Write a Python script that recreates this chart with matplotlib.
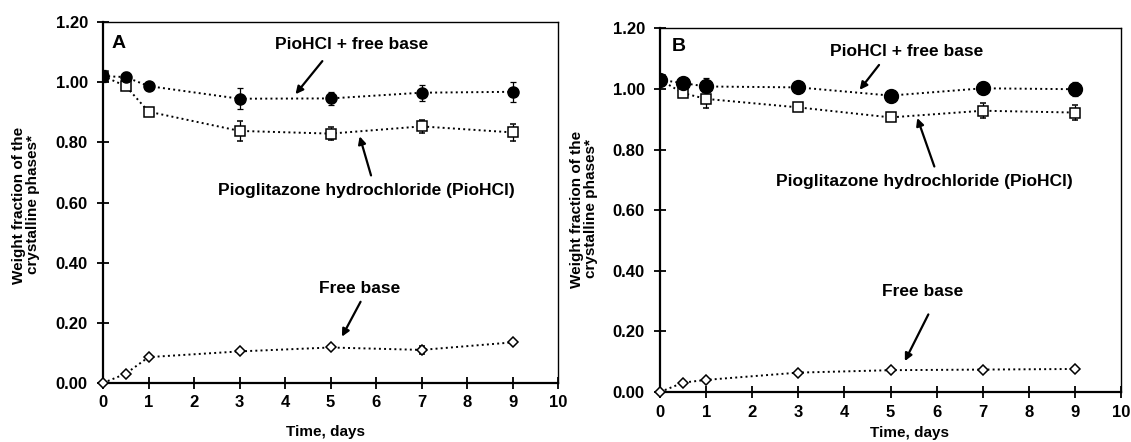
import matplotlib
matplotlib.use("Agg")
import matplotlib.pyplot as plt

plt.rcParams['font.family'] = ['Liberation Sans', 'DejaVu Sans']
plt.rcParams['font.weight'] = 'bold'

days = [0, 0.5, 1, 3, 5, 7, 9]

# panel A
a_total = [1.02, 1.017, 0.987, 0.945, 0.946, 0.965, 0.968]
a_total_err = [0.02, 0.017, 0.006, 0.034, 0.023, 0.027, 0.033]
a_hcl = [1.02, 0.987, 0.902, 0.838, 0.829, 0.853, 0.833]
a_hcl_err = [0.008, 0.014, 0.008, 0.032, 0.021, 0.021, 0.028]
a_base = [0.0, 0.031, 0.086, 0.105, 0.118, 0.110, 0.135]
a_base_err = [0.003, 0.005, 0.005, 0.005, 0.005, 0.012, 0.005]

# panel B
b_total = [1.030, 1.019, 1.008, 1.005, 0.978, 1.002, 0.999]
b_total_err = [0.01, 0.01, 0.027, 0.006, 0.01, 0.02, 0.023]
b_hcl = [1.03, 0.986, 0.967, 0.939, 0.906, 0.928, 0.922]
b_hcl_err = [0.008, 0.008, 0.03, 0.008, 0.008, 0.024, 0.024]
b_base = [0.0, 0.031, 0.040, 0.064, 0.072, 0.074, 0.076]
b_base_err = [0.003, 0.004, 0.004, 0.004, 0.004, 0.004, 0.004]

xticks = list(range(0, 11))
yticks = [0.0, 0.2, 0.4, 0.6, 0.8, 1.0, 1.2]
ylab = 'Weight fraction of the\ncrystalline phases*'


def draw_panel(ax, letter, total, total_err, hcl, hcl_err, base, base_err, circ_size, notes):
    kw = dict(color='black', ls=':', lw=1.4, capsize=2.5, elinewidth=0.9, capthick=0.9)
    ax.errorbar(days, hcl, yerr=hcl_err, marker='s', ms=7, mfc='white', mec='black', mew=1.1, **kw)
    ax.errorbar(days, total, yerr=total_err, marker='o', ms=circ_size, mfc='black', mec='black', **kw)
    ax.errorbar(days, base, yerr=base_err, marker='D', ms=5, mfc='white', mec='black', mew=1.1,
                clip_on=False, zorder=5, **kw)
    ax.set_xlim(0, 10)
    ax.set_ylim(0, 1.2)
    ax.set_xticks(xticks)
    ax.set_yticks(yticks)
    ax.set_yticklabels(['%.2f' % v for v in yticks])
    ax.tick_params(direction='inout', length=8, width=1.3, labelsize=12)
    ax.tick_params(axis='y', pad=7)
    ax.tick_params(axis='x', pad=5)
    for s in ['left', 'bottom']:
        ax.spines[s].set_linewidth(1.6)
    for s in ['top', 'right']:
        ax.spines[s].set_linewidth(1.0)
    ax.text(notes['letter'][0], notes['letter'][1], letter, fontsize=14, fontweight='bold',
            ha='center', va='center')
    for key, label in [('total', 'PioHCl + free base'),
                       ('hcl', 'Pioglitazone hydrochloride (PioHCl)'),
                       ('base', 'Free base')]:
        tx, ty, ax0, ay0, ax1, ay1 = notes[key]
        ax.text(tx, ty, label, fontsize=12.5, fontweight='bold', ha='center', va='center')
        ax.annotate('', xy=(ax1, ay1), xytext=(ax0, ay0),
                    arrowprops=dict(arrowstyle='-|>', color='black', lw=1.6,
                                    mutation_scale=11, shrinkA=0, shrinkB=0))


fig = plt.figure(figsize=(11.31, 4.42), dpi=100)
ax1 = fig.add_axes([0.0911, 0.1335, 0.4023, 0.8167])
ax2 = fig.add_axes([0.5836, 0.1131, 0.4076, 0.8229])

notes_a = {'letter': (0.35, 1.127),
           'total': (5.47, 1.125, 4.82, 1.07, 4.23, 0.96),
           'hcl': (5.79, 0.64, 5.89, 0.69, 5.64, 0.82),
           'base': (5.65, 0.314, 5.66, 0.27, 5.25, 0.154)}
notes_b = {'letter': (0.41, 1.14),
           'total': (5.35, 1.123, 4.75, 1.079, 4.33, 0.997),
           'hcl': (5.74, 0.695, 5.95, 0.744, 5.58, 0.904),
           'base': (5.70, 0.333, 5.82, 0.256, 5.31, 0.102)}

draw_panel(ax1, 'A', a_total, a_total_err, a_hcl, a_hcl_err, a_base, a_base_err, 8, notes_a)
draw_panel(ax2, 'B', b_total, b_total_err, b_hcl, b_hcl_err, b_base, b_base_err, 10, notes_b)

# axis titles placed in figure pixels
W, H = 1131.0, 442.0
fig.text(26 / W, 1 - 205 / H, ylab, rotation=90, ha='center', va='center',
         fontsize=11, fontweight='bold', linespacing=1.0)
fig.text(584 / W, 1 - 209 / H, ylab, rotation=90, ha='center', va='center',
         fontsize=11, fontweight='bold', linespacing=1.0)
fig.text(326 / W, 1 - 432 / H, 'Time, days', ha='center', va='center', fontsize=11, fontweight='bold')
fig.text(910 / W, 1 - 433 / H, 'Time, days', ha='center', va='center', fontsize=11, fontweight='bold')

fig.savefig('out.png', dpi=100)
